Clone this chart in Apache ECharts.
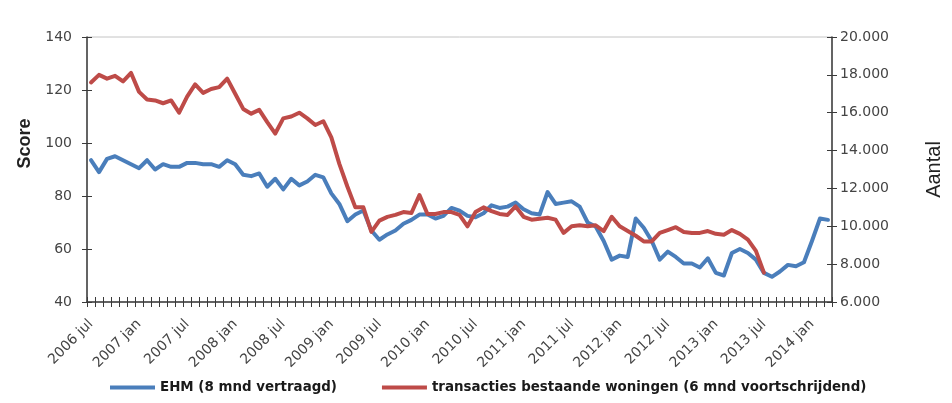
<!DOCTYPE html>
<html>
<head>
<meta charset="utf-8">
<title>EHM en transacties bestaande woningen</title>
<script src="https://cdn.jsdelivr.net/npm/echarts@6/dist/echarts.min.js"></script>
<style>
  html, body { margin: 0; padding: 0; background: #ffffff; }
  #chart { width: 952px; height: 403px; }
</style>
</head>
<body>
<div id="chart"></div>
<script>
// Monthly axis: 2006 jul .. 2014 mrt
const startYear = 2006;
const startMonth = 6; // 0-based: jul
const monthCount = 93;
const monthNames = ['jan', 'feb', 'mrt', 'apr', 'mei', 'jun', 'jul', 'aug', 'sep', 'okt', 'nov', 'dec'];

// EHM score (8 months lagged), left axis
const ehm = [
  93.5, 89, 94, 95, 93.5, 92, 90.5, 93.5, 90, 92,
  91, 91, 92.5, 92.5, 92, 92, 91, 93.5, 92, 88,
  87.5, 88.5, 83.5, 86.5, 82.5, 86.5, 84, 85.5, 88, 87,
  81, 77, 70.5, 73, 74.5, 67, 63.5, 65.5, 67, 69.5,
  71, 73, 73, 71.5, 72.5, 75.5, 74.5, 72.5, 72, 73.5,
  76.5, 75.5, 76, 77.5, 75, 73.5, 73, 81.5, 77, 77.5,
  78, 76, 70, 68.5, 63, 56, 57.5, 57, 71.5, 68,
  63, 56, 59, 57, 54.5, 54.5, 53, 56.5, 51, 50,
  58.5, 60, 58.5, 56, 51, 49.5, 51.5, 54, 53.5, 55,
  63, 71.5, 71
];

// Transactions of existing homes (6-month moving), right axis
const transacties = [
  17600, 18000, 17800, 17950, 17650, 18100, 17100, 16700, 16650, 16500,
  16650, 16000, 16850, 17500, 17050, 17250, 17350, 17800, 17000, 16200,
  15950, 16150, 15500, 14900, 15700, 15800, 16000, 15700, 15350, 15550,
  14700, 13300, 12100, 11000, 11000, 9700, 10300, 10500, 10600, 10750,
  10700, 11650, 10650, 10650, 10750, 10750, 10600, 10000, 10750, 11000,
  10800, 10650, 10600, 11050, 10500, 10350, 10400, 10450, 10350, 9650,
  10000, 10050, 10000, 10050, 9750, 10500, 10000, 9750, 9500, 9200,
  9200, 9650, 9800, 9950, 9700, 9650, 9650, 9750, 9600, 9550,
  9800, 9600, 9300, 8700, 7550
];

const seriesNames = ['EHM (8 mnd vertraagd)', 'transacties bestaande woningen (6 mnd voortschrijdend)'];

const categories = [];
for (let i = 0; i < monthCount; i++) {
  const m = startMonth + i;
  categories.push((startYear + Math.floor(m / 12)) + ' ' + monthNames[m % 12]);
}

const tickFont = { fontFamily: 'DejaVu Sans', fontSize: 14, color: '#444' };
const axisLine = { show: true, lineStyle: { color: '#3a3a3a', width: 1.5 } };

const chart = echarts.init(document.getElementById('chart'), null, { renderer: 'canvas' });

chart.setOption({
  animation: false,
  backgroundColor: '#ffffff',
  grid: {
    left: 87, right: 97, top: 37, bottom: 101,
    show: true, borderColor: '#c4c4c4', borderWidth: 1, backgroundColor: 'transparent'
  },
  legend: {
    left: 110, top: 381, padding: 0,
    icon: 'rect', itemWidth: 45, itemHeight: 4, itemGap: 45,
    textStyle: { fontFamily: 'DejaVu Sans', fontWeight: 'bold', fontSize: 13.4, color: '#1a1a1a' },
    data: seriesNames
  },
  xAxis: [
    {
      type: 'category', data: categories, boundaryGap: true,
      axisLine: axisLine,
      axisTick: { show: true, interval: 0, length: 5, lineStyle: { color: '#3a3a3a' } },
      axisLabel: Object.assign({ interval: 5, rotate: 45, margin: 20 }, tickFont),
      splitLine: { show: false }
    },
    {
      type: 'category', data: categories, boundaryGap: true, position: 'bottom',
      axisLine: { show: false },
      axisTick: { show: true, inside: true, interval: 0, length: 5, lineStyle: { color: '#3a3a3a' } },
      axisLabel: { show: false },
      splitLine: { show: false }
    }
  ],
  yAxis: [
    {
      type: 'value', position: 'left', min: 40, max: 140, interval: 20,
      name: 'Score', nameLocation: 'middle', nameGap: 50, nameRotate: 90,
      nameTextStyle: {
        fontFamily: 'Liberation Sans', fontWeight: 'bold', fontSize: 18, color: '#222',
        padding: [0, 0, 0, 52]
      },
      axisLine: axisLine,
      axisTick: { show: true, length: 5, lineStyle: { color: '#3a3a3a' } },
      axisLabel: Object.assign({ margin: 15 }, tickFont),
      splitLine: { show: false }
    },
    {
      type: 'value', position: 'right', min: 6000, max: 20000, interval: 2000,
      name: 'Aantal', nameLocation: 'middle', nameGap: 92, nameRotate: 90,
      nameTextStyle: { fontFamily: 'Liberation Sans', fontSize: 20, color: '#222' },
      axisLine: axisLine,
      axisTick: { show: true, length: 5, lineStyle: { color: '#3a3a3a' } },
      axisLabel: Object.assign({
        margin: 8,
        formatter: v => String(v).replace(/\B(?=(\d{3})+(?!\d))/g, '.')
      }, tickFont),
      splitLine: { show: false }
    },
    {
      type: 'value', position: 'left', min: 40, max: 140, interval: 20,
      axisLine: { show: false },
      axisTick: { show: true, inside: true, length: 5, lineStyle: { color: '#3a3a3a' } },
      axisLabel: { show: false },
      splitLine: { show: false }
    },
    {
      type: 'value', position: 'right', min: 6000, max: 20000, interval: 2000,
      axisLine: { show: false },
      axisTick: { show: true, inside: true, length: 5, lineStyle: { color: '#3a3a3a' } },
      axisLabel: { show: false },
      splitLine: { show: false }
    }
  ],
  series: [
    {
      name: seriesNames[0], type: 'line', xAxisIndex: 0, yAxisIndex: 0,
      data: ehm, showSymbol: false, symbol: 'none',
      itemStyle: { color: '#4a7ebb' },
      lineStyle: { color: '#4a7ebb', width: 4, cap: 'round', join: 'round' }
    },
    {
      name: seriesNames[1], type: 'line', xAxisIndex: 0, yAxisIndex: 1,
      data: transacties, showSymbol: false, symbol: 'none',
      itemStyle: { color: '#be4b48' },
      lineStyle: { color: '#be4b48', width: 4, cap: 'round', join: 'round' }
    }
  ]
});
</script>
</body>
</html>
